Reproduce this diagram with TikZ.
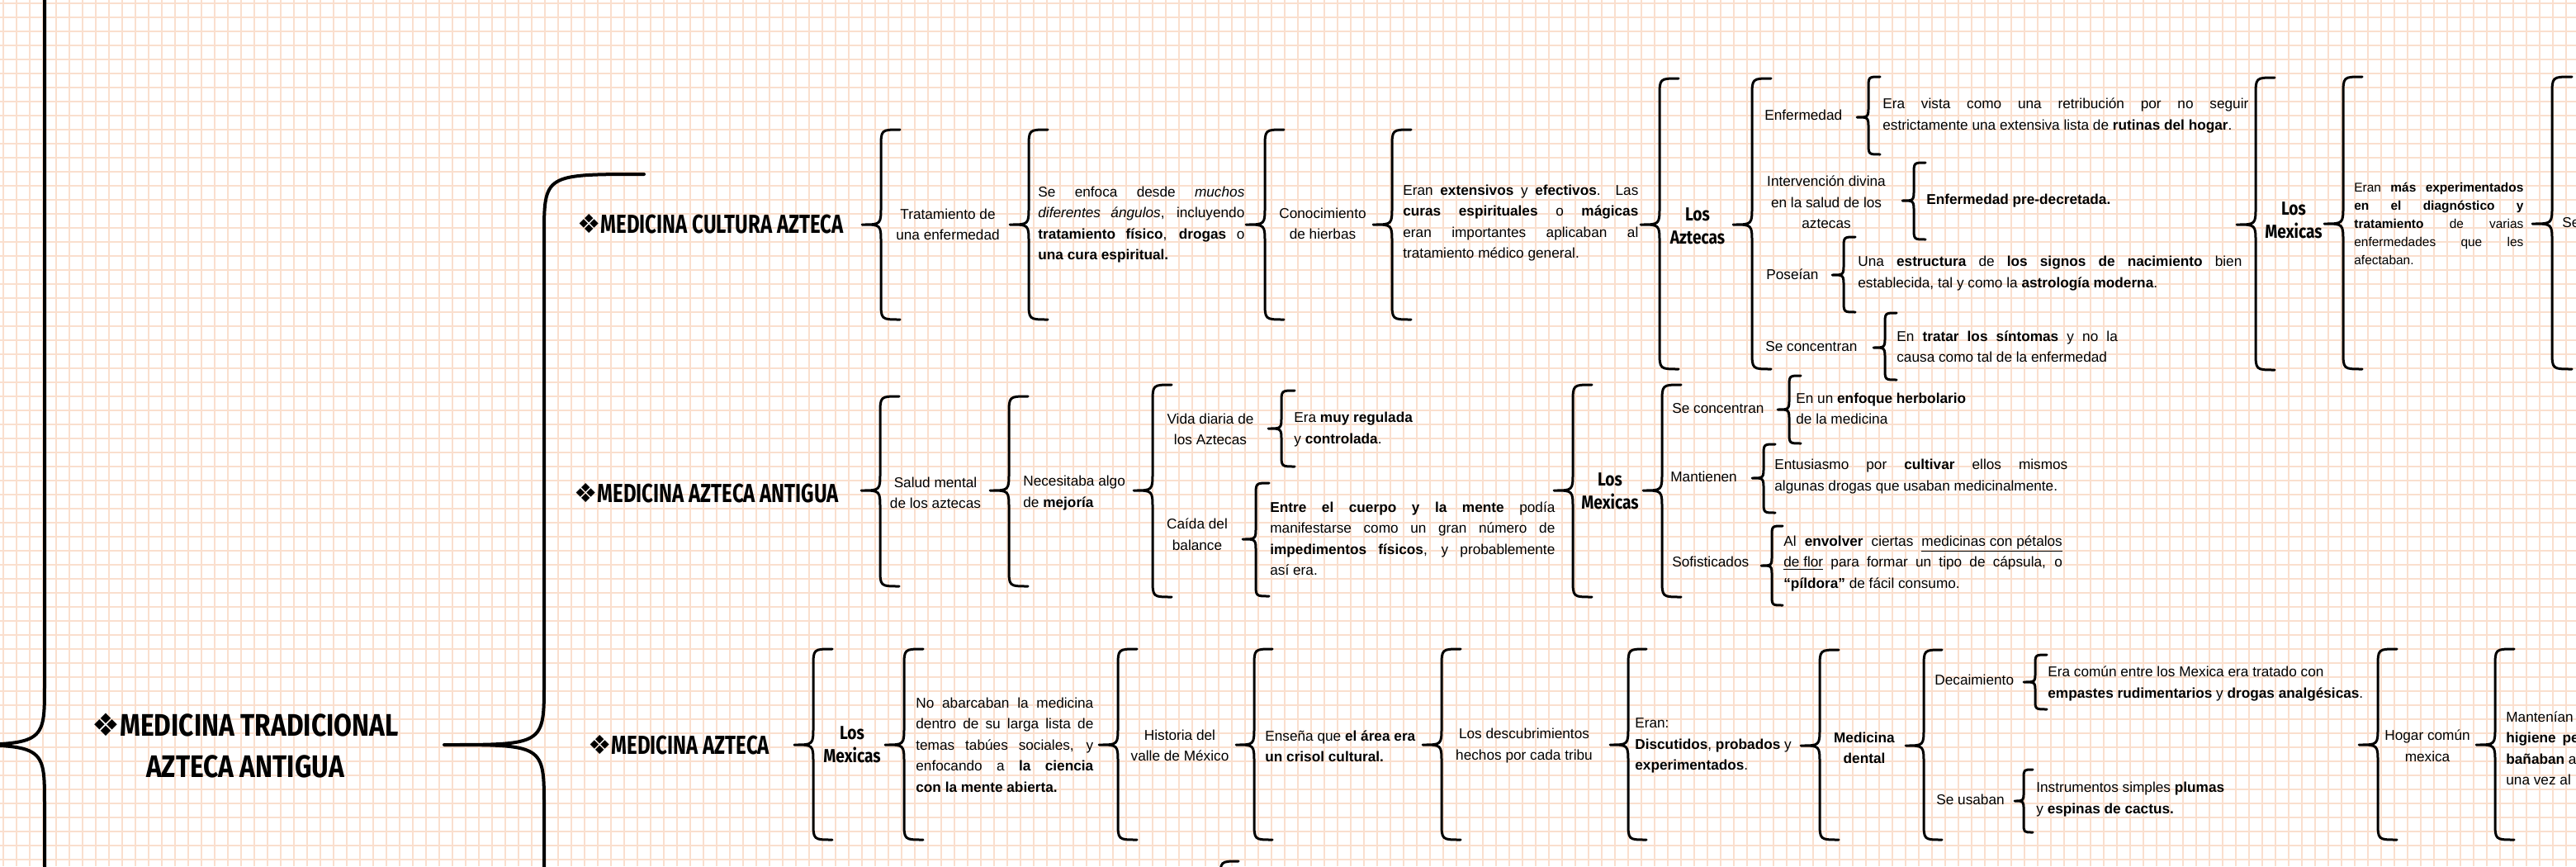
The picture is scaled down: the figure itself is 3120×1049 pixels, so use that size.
\documentclass[tikz,border=0pt]{standalone}
\usepackage{fontspec}
\setmainfont{Liberation Sans}
\newfontfamily\rowfont[FakeStretch=0.76]{Fira Sans}
\newfontfamily\topfont[FakeStretch=0.84]{Fira Sans}
\newfontfamily\diafont{DejaVu Sans}
\usetikzlibrary{positioning}
\definecolor{gridpeach}{RGB}{250,223,206}

% brace: tip x, tip y, top y, bottom y, half width, corner
\newcommand{\brc}[7][brace line]{%
	\draw[#1] (#2+2*#6,#4) .. controls (#2+#6,#4) .. (#2+#6,#4+#7)
		-- (#2+#6,#3-#7) .. controls (#2+#6,#3) .. (#2,#3)
		.. controls (#2+#6,#3) .. (#2+#6,#3+#7)
		-- (#2+#6,#5-#7) .. controls (#2+#6,#5) .. (#2+2*#6,#5);}

\begin{document}
\begin{tikzpicture}
	[x=0.2mm,y=-0.2mm,
	body/.style={inner sep=0pt,align=center,font=\fontsize{9.8}{14.5}\selectfont},
	desc/.style={body,anchor=west,align=left},
	just/.style={desc,align=justify,text width=#1},
	small/.style={desc,align=justify,text width=#1,font=\fontsize{8.8}{12.5}\selectfont},
	head/.style={inner sep=0pt,anchor=west,font=\rowfont\bfseries\fontsize{18}{22}\selectfont},
	title/.style={inner sep=0pt,align=center,font=\topfont\bfseries\fontsize{21.5}{28}\selectfont},
	group/.style={inner sep=0pt,align=center,font=\topfont\bfseries\fontsize{13}{16}\selectfont},
	brace line/.style={draw=black,line width=0.6mm,line cap=round,line join=round},
	big brace/.style={draw=black,line width=0.8mm,line cap=round,line join=round},
	grid line/.style={draw=gridpeach,line width=0.36mm}
	]

	\useasboundingbox (0,0) rectangle (3120,1049);
	\clip (0,0) rectangle (3120,1049);
	\fill[white] (0,0) rectangle (3120,1049);
	\foreach \gx in {4,20,...,3116} \draw[grid line] (\gx,0) -- (\gx,1049);
	\foreach \gy in {4,21,...,1045} \draw[grid line] (0,\gy) -- (3120,\gy);

	% main braces
	\brc[big brace]{-68}{902}{-700}{1600}{122}{72}
	\brc[big brace]{538}{902}{211}{1593}{121}{75}
	\brc{1456}{1270}{1043}{1500}{22}{22}

	\node [title] (1) at (297, 903) {{\diafont ❖}MEDICINA TRADICIONAL\\AZTECA ANTIGUA};

	% first row
	\brc{1044}{272}{157}{387}{23}{22}
	\brc{1223}{272}{157}{387}{23}{22}
	\brc{1509}{272}{157}{387}{23}{22}
	\brc{1663}{272}{157}{387}{23}{22}
	\brc{1987}{272}{95}{447}{23}{22}
	\brc{2099}{272}{95}{447}{23}{22}
	\brc{2249}{142}{93}{187}{14}{14}
	\brc{2304}{243}{197}{290}{14}{14}
	\brc{2219}{333}{287}{378}{14}{14}
	\brc{2269}{421}{379}{460}{14}{14}
	\brc{2709}{272}{94}{448}{23}{22}
	\brc{2815}{271}{93}{447}{23}{22}
	\brc{3067}{271}{93}{447}{24}{22}

	\node [head] (2) at (699, 271) {{\diafont ❖}MEDICINA CULTURA AZTECA};
	\node [body] (3) at (1148, 272) {Tratamiento de\\una enfermedad};
	\node [just=50mm] (4) at (1257, 272) {Se enfoca desde \textit{muchos}\linebreak \textit{diferentes ángulos}, incluyendo\linebreak \textbf{tratamiento físico}, \textbf{drogas} o\linebreak \textbf{una cura espiritual.}};
	\node [body] (5) at (1602, 271) {Conocimiento\\de hierbas};
	\node [just=57mm] (6) at (1699, 270) {Eran \textbf{extensivos} y \textbf{efectivos}. Las\linebreak \textbf{curas espirituales} o \textbf{mágicas}\linebreak eran importantes aplicaban al\linebreak tratamiento médico general.};
	\node [group] (7) at (2056, 274) {Los\\Aztecas};
	\node [desc] (8) at (2137, 139) {Enfermedad};
	\node [just=88.6mm] (9) at (2280, 140) {Era vista como una retribución por no seguir\linebreak estrictamente una extensiva lista de \textbf{rutinas del hogar}.};
	\node [body] (10) at (2212, 245) {Intervención divina\\en la salud de los\\aztecas};
	\node [desc] (11) at (2333, 243) {\textbf{Enfermedad pre-decretada.}};
	\node [desc] (12) at (2139, 332) {Poseían};
	\node [just=93mm] (13) at (2250, 331) {Una \textbf{estructura} de \textbf{los signos de nacimiento} bien\linebreak establecida, tal y como la \textbf{astrología moderna}.};
	\node [desc] (14) at (2138, 420) {Se concentran};
	\node [just=53.5mm] (15) at (2297, 420) {En \textbf{tratar los síntomas} y no la\linebreak causa como tal de la enfermedad};
	\node [group] (16) at (2778, 267) {Los\\Mexicas};
	\node [small=41mm] (17) at (2851, 271) {Eran \textbf{más experimentados}\linebreak \textbf{en el diagnóstico y}\linebreak \textbf{tratamiento} de varias\linebreak enfermedades que les\linebreak afectaban.};
	\node [desc] (18) at (3103, 270) {Se};

	% second row
	\brc{1043}{594}{480}{710}{23}{22}
	\brc{1199}{594}{480}{710}{23}{22}
	\brc{1373}{594}{466}{723}{23}{22}
	\brc{1536}{519}{473}{565}{16}{15}
	\brc{1505}{653}{585}{722}{16}{15}
	\brc{1882}{594}{466}{723}{23}{22}
	\brc{1990}{594}{466}{723}{23}{22}
	\brc{2153}{496}{455}{537}{14}{14}
	\brc{2122}{579}{538}{621}{14}{14}
	\brc{2133}{685}{637}{733}{13}{13}

	\node [head] (19) at (695, 597) {{\diafont ❖}MEDICINA AZTECA ANTIGUA};
	\node [body] (20) at (1133, 597) {Salud mental\\de los aztecas};
	\node [desc] (21) at (1239, 597) {Necesitaba algo\\de \textbf{mejoría}};
	\node [body] (22) at (1466, 520) {Vida diaria de\\los Aztecas};
	\node [desc] (23) at (1567, 520) {Era \textbf{muy regulada}\\y \textbf{controlada}.};
	\node [body] (24) at (1450, 647) {Caída del\\balance};
	\node [just=69mm] (25) at (1538, 652) {\textbf{Entre el cuerpo y la mente} podía\linebreak manifestarse como un gran número de\linebreak \textbf{impedimentos físicos}, y probablemente\linebreak así era.};
	\node [group] (26) at (1950, 595) {Los\\Mexicas};
	\node [desc] (27) at (2025, 495) {Se concentran};
	\node [desc] (28) at (2175, 495) {En un \textbf{enfoque herbolario}\\de la medicina};
	\node [desc] (29) at (2023, 577) {Mantienen};
	\node [just=71mm] (30) at (2149, 577) {Entusiasmo por \textbf{cultivar} ellos mismos\linebreak algunas drogas que usaban medicinalmente.};
	\node [desc] (31) at (2025, 680) {Sofisticados};
	\node [just=67.5mm] (32) at (2160, 682) {Al \textbf{envolver} ciertas \underline{medicinas con pétalos}\linebreak \underline{de flor} para formar un tipo de cápsula, o\linebreak \textbf{“píldora”} de fácil consumo.};

	% third row
	\brc{962}{902}{786}{1017}{23}{22}
	\brc{1072}{902}{786}{1017}{23}{22}
	\brc{1331}{902}{786}{1017}{23}{22}
	\brc{1497}{902}{786}{1017}{22}{22}
	\brc{1723}{902}{786}{1017}{23}{22}
	\brc{1950}{902}{786}{1017}{22}{22}
	\brc{2181}{903}{787}{1017}{23}{22}
	\brc{2308}{903}{787}{1017}{22}{22}
	\brc{2451}{826}{793}{859}{14}{12}
	\brc{2440}{970}{932}{1008}{11}{11}
	\brc{2857}{902}{786}{1017}{23}{22}
	\brc{2999}{902}{786}{1017}{23}{22}

	\node [head] (33) at (712, 902) {{\diafont ❖}MEDICINA AZTECA};
	\node [group] (34) at (1032, 902) {Los\\Mexicas};
	\node [just=43mm] (35) at (1109, 902) {No abarcaban la medicina\linebreak dentro de su larga lista de\linebreak temas tabúes sociales, y\linebreak enfocando a \textbf{la ciencia}\linebreak \textbf{con la mente abierta.}};
	\node [body] (36) at (1429, 903) {Historia del\\valle de México};
	\node [desc] (37) at (1532, 904) {Enseña que \textbf{el área era}\\\textbf{un crisol cultural.}};
	\node [body] (38) at (1846, 903) {Los descubrimientos\\hechos por cada tribu};
	\node [desc] (39) at (1980, 903) {Eran:\\\textbf{Discutidos}, \textbf{probados} y\\\textbf{experimentados}.};
	\node [body] (40) at (2258, 906) {\textbf{Medicina}\\\textbf{dental}};
	\node [desc] (41) at (2343, 823) {Decaimiento};
	\node [desc] (42) at (2480, 828) {Era común entre los Mexica era tratado con\\\textbf{empastes rudimentarios} y \textbf{drogas analgésicas}.};
	\node [desc] (43) at (2345, 968) {Se usaban};
	\node [desc] (44) at (2466, 968) {Instrumentos simples \textbf{plumas}\\y \textbf{espinas de cactus.}};
	\node [body] (45) at (2940, 903) {Hogar común\\mexica};
	\node [desc] (46) at (3035, 906) {Mantenían\\\textbf{higiene}\hspace{1.6mm}\textbf{pe}\\\textbf{bañaban} a\\una vez al};

\end{tikzpicture}
\end{document}
